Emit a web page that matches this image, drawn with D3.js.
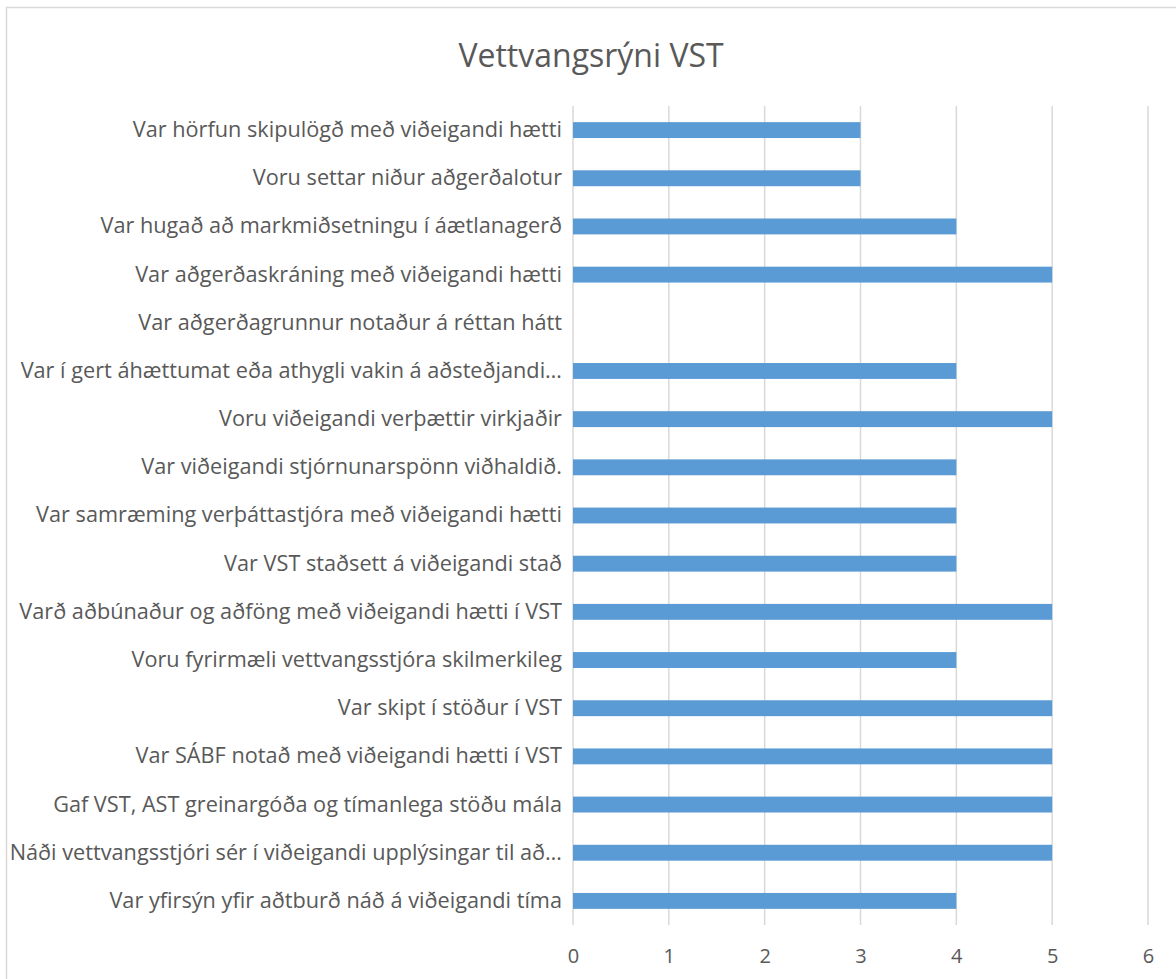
<!DOCTYPE html>
<html>
<head>
<meta charset="utf-8">
<script src="https://cdn.jsdelivr.net/npm/d3@7"></script>
<style>
  body { margin: 0; background: #fff; }
  svg { display: block; font-family: "Open Sans", sans-serif; }
</style>
</head>
<body>
<div id="graph-container"></div>
<script>
// Categories, top to bottom as shown
const categories = [
    "Var hörfun skipulögð með viðeigandi hætti",
    "Voru settar niður aðgerðalotur",
    "Var hugað að markmiðsetningu í áætlanagerð",
    "Var aðgerðaskráning með viðeigandi hætti",
    "Var aðgerðagrunnur notaður á réttan hátt",
    "Var í gert áhættumat eða athygli vakin á aðsteðjandi…",
    "Voru viðeigandi verþættir virkjaðir",
    "Var viðeigandi stjórnunarspönn viðhaldið.",
    "Var samræming verþáttastjóra með viðeigandi hætti",
    "Var VST staðsett á viðeigandi stað",
    "Varð aðbúnaður og aðföng með viðeigandi hætti í VST",
    "Voru fyrirmæli vettvangsstjóra skilmerkileg",
    "Var skipt í stöður í VST",
    "Var SÁBF notað með viðeigandi hætti í VST",
    "Gaf VST, AST greinargóða og tímanlega stöðu mála",
    "Náði vettvangsstjóri sér í viðeigandi upplýsingar til að…",
    "Var yfirsýn yfir aðtburð náð á viðeigandi tíma"
];
const values = [3, 3, 4, 5, 0, 4, 5, 4, 4, 4, 5, 4, 5, 5, 5, 5, 4];
const xTicks = [0, 1, 2, 3, 4, 5, 6];
const title = "Vettvangsrýni VST";

const W = 1176, H = 979;
const plot = { left: 573, right: 1148, top: 106, bottom: 925 };

const svg = d3.select("#graph-container")
    .append("svg")
        .attr("width", W)
        .attr("height", H);

// Chart frame (runs off the right and bottom edges)
svg.append("rect")
    .attr("x", 6.5).attr("y", 7.5)
    .attr("width", W + 10).attr("height", H + 10)
    .attr("fill", "none")
    .attr("stroke", "#d9d9d9")
    .attr("stroke-width", 1.5);

const x = d3.scaleLinear()
    .domain([0, 6])
    .range([plot.left, plot.right]);

const y = d3.scaleBand()
    .domain(categories)
    .range([plot.top, plot.bottom])
    .paddingInner(0.67)
    .paddingOuter(0.335);

// Gridlines
svg.append("g")
    .selectAll("line")
    .data(xTicks)
    .join("line")
        .attr("x1", d => x(d)).attr("x2", d => x(d))
        .attr("y1", plot.top).attr("y2", plot.bottom)
        .attr("stroke", "#d9d9d9")
        .attr("stroke-width", 1.5);

// Bars
svg.append("g")
    .selectAll("rect")
    .data(values)
    .join("rect")
        .attr("x", x(0))
        .attr("y", (d, i) => y(categories[i]))
        .attr("width", d => x(d) - x(0))
        .attr("height", y.bandwidth())
        .attr("fill", "#5b9bd5");

// Category labels
const yAxis = svg.append("g")
    .attr("transform", `translate(${plot.left - 2},0)`)
    .call(d3.axisLeft(y).tickSize(0).tickPadding(9));
yAxis.select(".domain").remove();
yAxis.selectAll("text")
    .attr("fill", "#595959")
    .style("font-size", "21.7px")
    .style("font-family", "'Open Sans', sans-serif");

// Value axis labels
const xAxis = svg.append("g")
    .attr("transform", `translate(0,${plot.bottom})`)
    .call(d3.axisBottom(x).tickValues(xTicks).tickSize(0).tickPadding(24).tickFormat(d3.format("d")));
xAxis.select(".domain").remove();
xAxis.selectAll("text")
    .attr("fill", "#595959")
    .style("font-size", "20px")
    .style("font-family", "'Open Sans', sans-serif");

// Title
svg.append("text")
    .attr("x", 591)
    .attr("y", 67)
    .attr("text-anchor", "middle")
    .attr("fill", "#595959")
    .style("font-size", "32px")
    .text(title);
</script>
</body>
</html>
